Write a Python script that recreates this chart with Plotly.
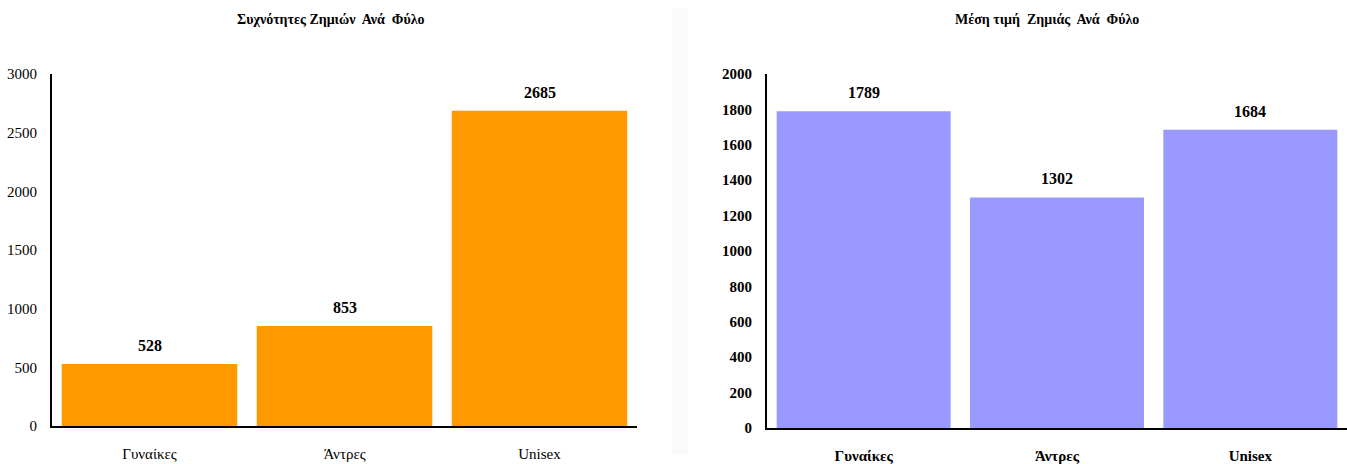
import plotly.graph_objects as go

categories = ["Γυναίκες", "Άντρες", "Unisex"]
freq_values = [528, 853, 2685]
mean_values = [1789, 1302, 1684]
title_left = "Συχνότητες Ζημιών  Ανά  Φύλο"
title_right = "Μέση τιμή  Ζημιάς  Ανά  Φύλο"
left_ticks = [0, 500, 1000, 1500, 2000, 2500, 3000]
right_ticks = [0, 200, 400, 600, 800, 1000, 1200, 1400, 1600, 1800, 2000]

FONT = "Liberation Serif"
W, H = 1347, 464


def fy(p):
    # pixel row in the captured picture -> paper fraction
    return 1 - ((p - 8) / 0.9655) / H


fig = go.Figure()
fig.add_trace(go.Bar(x=categories, y=freq_values, marker_color="#FF9900",
                     marker_line_width=0, width=0.9, xaxis="x", yaxis="y",
                     hoverinfo="x+y"))
fig.add_trace(go.Bar(x=categories, y=mean_values, marker_color="#9999FF",
                     marker_line_width=0, width=0.9, xaxis="x2", yaxis="y2",
                     hoverinfo="x+y"))

annotations = []
for c, v in zip(categories, freq_values):
    annotations.append(dict(x=c, y=v, xref="x", yref="y", text=f"<b>{v}</b>",
                            showarrow=False, yanchor="bottom", yshift=8,
                            font=dict(family=FONT, size=16, color="black")))
for c, v in zip(categories, mean_values):
    annotations.append(dict(x=c, y=v, xref="x2", yref="y2", text=f"<b>{v}</b>",
                            showarrow=False, yanchor="bottom", yshift=8,
                            font=dict(family=FONT, size=16, color="black")))
annotations.append(dict(x=331 / W, y=fy(20), xref="paper", yref="paper",
                        text=f"<b>{title_left}</b>", showarrow=False,
                        xanchor="center", yanchor="middle",
                        font=dict(family=FONT, size=14, color="black")))
annotations.append(dict(x=1047 / W, y=fy(20), xref="paper", yref="paper",
                        text=f"<b>{title_right}</b>", showarrow=False,
                        xanchor="center", yanchor="middle",
                        font=dict(family=FONT, size=14, color="black")))

axis_common = dict(showgrid=False, zeroline=False, showline=True,
                   linecolor="black", linewidth=2, ticks="", fixedrange=True)

fig.update_layout(
    width=W, height=H,
    margin=dict(l=0, r=0, t=0, b=0),
    paper_bgcolor="white", plot_bgcolor="white",
    showlegend=False,
    annotations=annotations,
    shapes=[dict(type="rect", xref="paper", yref="paper",
                 x0=672 / W, x1=688 / W, y0=0, y1=1,
                 fillcolor="#fafafa", line_width=0, layer="below")],
    xaxis=dict(domain=[52 / W, 637 / W], anchor="y", range=[-0.5, 2.5],
               tickfont=dict(family=FONT, size=15, color="black"),
               ticklabelstandoff=13, **axis_common),
    yaxis=dict(domain=[fy(427), fy(74)], anchor="x",
               range=[0, 3000], tickvals=left_ticks,
               ticktext=[str(t) for t in left_ticks],
               tickfont=dict(family=FONT, size=15, color="black"),
               ticklabelstandoff=10, **axis_common),
    xaxis2=dict(domain=[767 / W, 1.0], anchor="y2", range=[-0.5, 2.5],
                tickvals=categories,
                ticktext=[f"<b>{c}</b>" for c in categories],
                tickfont=dict(family=FONT, size=15, color="black"),
                ticklabelstandoff=13, **axis_common),
    yaxis2=dict(domain=[fy(429), fy(74)], anchor="x2",
                range=[0, 2000], tickvals=right_ticks,
                ticktext=[f"<b>{t}</b>" for t in right_ticks],
                tickfont=dict(family=FONT, size=15, color="black"),
                ticklabelstandoff=10, **axis_common),
)

fig.write_html("out.html", config={"displayModeBar": False})
